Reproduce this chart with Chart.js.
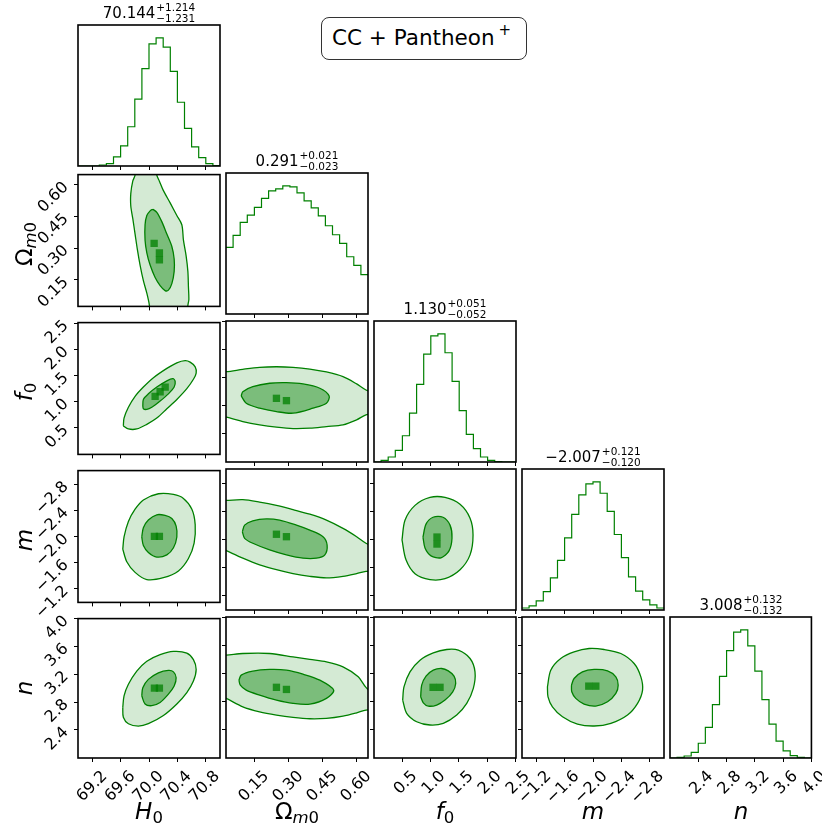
<!DOCTYPE html>
<html>
<head>
<meta charset="utf-8">
<title>CC + Pantheon+ corner plot</title>
<script src="https://cdn.jsdelivr.net/npm/chart.js@4.4.1/dist/chart.umd.min.js"></script>
<style>
  body { margin: 0; background: #fff; }
  #fig { position: relative; width: 822px; height: 828px; overflow: hidden;
         font-family: 'DejaVu Sans', sans-serif; color: #000; }
  #fig canvas { position: absolute; }
  .ttl { position: absolute; height: 24px; display: flex; align-items: center;
         transform: translateX(-50%); font-size: 15px; line-height: 15px; white-space: nowrap; }
  .ttl .sc { display: flex; flex-direction: column; font-size: 10.5px; line-height: 11.5px; margin-left: 1px; }
  .lab { position: absolute; font-size: 23px; line-height: 23px; white-space: nowrap; }
  .lab sub { font-size: 0.72em; vertical-align: -0.3em; line-height: 0; }
  .xl { transform: translate(-50%, -50%); }
  .yl { transform: translate(-50%, -50%) rotate(-90deg); }
  #box { position: absolute; left: 321px; top: 17px; width: 206px; height: 43px; box-sizing: border-box;
         border: 1px solid #333; border-radius: 8px; font-size: 21.5px; line-height: 21.5px;
         padding-left: 10px; padding-bottom: 2px; display: flex; align-items: center; white-space: nowrap; }
  #box .sp { font-size: 15px; position: relative; top: -7px; margin-left: 4px; }
</style>
</head>
<body>
<div id="fig">
  <div id="box">CC + Pantheon<span class="sp">+</span></div>
</div>
<script>
// ---- values ----
var ticksH0 = [69.2, 69.6, 70.0, 70.4, 70.8];
var ticksOm = [0.15, 0.30, 0.45, 0.60];
var ticksF0 = [0.5, 1.0, 1.5, 2.0, 2.5];
var ticksM = [-1.2, -1.6, -2.0, -2.4, -2.8];
var ticksN = [2.4, 2.8, 3.2, 3.6, 4.0];

// 20-bin marginal histograms (arbitrary counts), left to right along each axis
var histH0 = [0, 0, 0, 3, 7, 27, 60, 117, 199, 290, 364, 382, 354, 282, 190, 112, 57, 25, 7, 1];
var histOm = [200, 236, 275, 297, 320, 347, 370, 376, 385, 382, 364, 340, 319, 295, 265, 238, 212, 172, 146, 118];
var histF0 = [0, 5, 15, 35, 79, 147, 234, 325, 380, 386, 329, 243, 155, 83, 40, 15, 5, 1, 0, 0];
var histM = [6, 12, 27, 55, 96, 148, 215, 285, 343, 376, 382, 348, 294, 225, 156, 99, 56, 30, 15, 6];
var histN = [0, 2, 6, 17, 44, 91, 159, 243, 320, 375, 382, 334, 259, 174, 101, 50, 21, 7, 2, 0];

// numbers printed above the diagonal
var medH0 = ['70.144', '+1.214', '\u22121.231'];
var medOm = ['0.291', '+0.021', '\u22120.023'];
var medF0 = ['1.130', '+0.051', '\u22120.052'];
var medM = ['\u22122.007', '+0.121', '\u22120.120'];
var medN = ['3.008', '+0.132', '\u22120.132'];

// 2D panels: outer and inner contour, densest cells  [x, y]
var outerH0Om = [[69.80, 0.70], [69.802, 0.647], [69.769, 0.618], [69.741, 0.559], [69.741, 0.500], [69.769, 0.441], [69.802, 0.367], [69.835, 0.293], [69.873, 0.220], [69.920, 0.146], [69.969, 0.087], [70.006, 0.028], [70.01, -0.02],
                 [70.55, -0.02], [70.553, 0.028], [70.567, 0.057], [70.561, 0.116], [70.553, 0.190], [70.528, 0.264], [70.490, 0.338], [70.467, 0.411], [70.396, 0.455], [70.301, 0.515], [70.205, 0.573], [70.148, 0.618], [70.111, 0.647], [70.10, 0.70]];
var innerH0Om = [[70.054, 0.485], [70.111, 0.470], [70.182, 0.426], [70.254, 0.367], [70.325, 0.308], [70.358, 0.249], [70.358, 0.190], [70.325, 0.132], [70.276, 0.101], [70.229, 0.099], [70.158, 0.123], [70.087, 0.161], [70.016, 0.220], [69.969, 0.278], [69.944, 0.338], [69.944, 0.411], [69.969, 0.455], [70.016, 0.477]];
var peakH0Om = [[70.148, 0.278], [70.073, 0.323], [70.148, 0.245]];

var outerH0F0 = [[69.635, 0.536], [69.645, 0.686], [69.707, 0.893], [69.802, 1.102], [69.920, 1.280], [70.063, 1.459], [70.254, 1.638], [70.396, 1.745], [70.514, 1.786], [70.585, 1.757], [70.657, 1.668], [70.671, 1.548], [70.632, 1.429], [70.538, 1.250], [70.396, 1.043], [70.254, 0.864], [70.111, 0.686], [69.969, 0.566], [69.826, 0.477], [69.707, 0.477]];
var innerH0F0 = [[69.912, 0.923], [69.920, 1.043], [69.991, 1.150], [70.111, 1.280], [70.254, 1.400], [70.339, 1.441], [70.372, 1.388], [70.358, 1.280], [70.276, 1.150], [70.158, 1.013], [70.040, 0.893], [69.969, 0.852], [69.920, 0.864]];
var peakH0F0 = [[70.158, 1.191], [70.087, 1.102], [70.230, 1.280]];

var outerH0M = [[69.627, -1.804], [69.645, -1.993], [69.707, -2.230], [69.802, -2.418], [69.920, -2.560], [70.134, -2.655], [70.348, -2.645], [70.490, -2.584], [70.610, -2.418], [70.657, -2.182], [70.642, -1.898], [70.561, -1.662], [70.419, -1.472], [70.205, -1.369], [69.969, -1.340], [69.802, -1.450], [69.684, -1.614]];
var innerH0M = [[69.897, -1.993], [69.920, -2.135], [69.991, -2.252], [70.111, -2.333], [70.229, -2.323], [70.325, -2.277], [70.386, -2.159], [70.396, -1.993], [70.348, -1.827], [70.254, -1.719], [70.111, -1.685], [69.991, -1.756], [69.920, -1.861]];
var peakH0M = [[70.148, -2.003], [70.077, -2.003]];

var outerH0N = [[69.627, 2.723], [69.645, 2.889], [69.707, 3.055], [69.826, 3.244], [69.969, 3.386], [70.158, 3.481], [70.348, 3.528], [70.538, 3.504], [70.632, 3.410], [70.671, 3.268], [70.632, 3.102], [70.538, 2.936], [70.396, 2.772], [70.205, 2.606], [69.991, 2.488], [69.849, 2.454], [69.707, 2.488], [69.635, 2.582]];
var innerH0N = [[69.897, 2.889], [69.912, 3.007], [69.991, 3.126], [70.134, 3.220], [70.276, 3.254], [70.348, 3.234], [70.386, 3.149], [70.358, 3.031], [70.276, 2.913], [70.158, 2.794], [70.040, 2.748], [69.944, 2.772]];
var peakH0N = [[70.148, 2.999], [70.077, 2.999]];

var outerOmF0 = [[-0.05, 1.60], [0.025, 1.607], [0.098, 1.650], [0.172, 1.686], [0.246, 1.696], [0.319, 1.686], [0.393, 1.655], [0.466, 1.602], [0.539, 1.518], [0.599, 1.388], [0.640, 1.280], [0.72, 1.15],
                 [0.72, 0.90], [0.640, 0.834], [0.599, 0.745], [0.539, 0.655], [0.466, 0.625], [0.393, 0.596], [0.319, 0.589], [0.246, 0.614], [0.172, 0.655], [0.098, 0.714], [0.025, 0.793], [-0.05, 0.85]];
var innerOmF0 = [[0.091, 1.173], [0.098, 1.250], [0.142, 1.339], [0.216, 1.400], [0.290, 1.411], [0.363, 1.388], [0.437, 1.311], [0.478, 1.173], [0.466, 1.043], [0.407, 0.954], [0.319, 0.864], [0.246, 0.893], [0.172, 0.954], [0.113, 1.043]];
var peakOmF0 = [[0.290, 1.089], [0.246, 1.13]];

var outerOmM = [[-0.05, -2.56], [0.025, -2.560], [0.098, -2.570], [0.172, -2.536], [0.246, -2.489], [0.319, -2.428], [0.393, -2.362], [0.466, -2.277], [0.539, -2.159], [0.599, -2.040], [0.640, -1.946], [0.72, -1.80],
                [0.72, -1.56], [0.640, -1.543], [0.599, -1.511], [0.539, -1.472], [0.466, -1.450], [0.393, -1.472], [0.319, -1.511], [0.246, -1.567], [0.172, -1.638], [0.098, -1.733], [0.025, -1.841], [-0.05, -1.95]];
var innerOmM = [[0.096, -2.111], [0.106, -2.206], [0.142, -2.267], [0.202, -2.295], [0.260, -2.277], [0.334, -2.206], [0.393, -2.135], [0.451, -2.040], [0.469, -1.922], [0.459, -1.780], [0.422, -1.733], [0.363, -1.733], [0.290, -1.780], [0.216, -1.851], [0.142, -1.946], [0.106, -2.017]];
var peakOmM = [[0.290, -2.040], [0.246, -2.075]];

var outerOmN = [[-0.05, 3.45], [0.025, 3.457], [0.098, 3.481], [0.216, 3.481], [0.319, 3.433], [0.393, 3.396], [0.466, 3.362], [0.539, 3.291], [0.606, 3.149], [0.640, 2.999], [0.72, 2.75],
                [0.72, 2.70], [0.640, 2.677], [0.599, 2.638], [0.539, 2.591], [0.466, 2.559], [0.393, 2.553], [0.319, 2.573], [0.246, 2.606], [0.172, 2.652], [0.098, 2.723], [0.025, 2.843], [-0.05, 2.95]];
var innerOmN = [[0.081, 3.102], [0.091, 3.173], [0.142, 3.230], [0.216, 3.254], [0.290, 3.244], [0.363, 3.187], [0.437, 3.102], [0.498, 2.960], [0.466, 2.843], [0.393, 2.762], [0.319, 2.772], [0.246, 2.818], [0.172, 2.889], [0.113, 2.960], [0.087, 3.031]];
var peakOmN = [[0.290, 2.970], [0.246, 3.0]];

var outerF0M = [[0.488, -1.993], [0.541, -2.277], [0.719, -2.489], [0.986, -2.603], [1.253, -2.603], [1.520, -2.504], [1.698, -2.305], [1.751, -2.064], [1.698, -1.780], [1.520, -1.567], [1.253, -1.440], [0.986, -1.426], [0.719, -1.511], [0.559, -1.709]];
var innerF0M = [[0.861, -2.035], [0.915, -2.220], [1.039, -2.319], [1.217, -2.319], [1.342, -2.206], [1.377, -2.021], [1.324, -1.837], [1.181, -1.738], [1.004, -1.766], [0.897, -1.879]];
var peakF0M = [[1.110, -2.035], [1.110, -1.935]];

var outerF0N = [[0.500, 2.818], [0.523, 3.007], [0.630, 3.220], [0.808, 3.386], [1.044, 3.489], [1.283, 3.538], [1.489, 3.528], [1.698, 3.410], [1.786, 3.220], [1.756, 2.984], [1.639, 2.772], [1.461, 2.606], [1.222, 2.488], [0.986, 2.464], [0.749, 2.511], [0.571, 2.630]];
var innerF0N = [[0.820, 2.865], [0.838, 3.031], [0.915, 3.159], [1.044, 3.244], [1.194, 3.268], [1.311, 3.234], [1.413, 3.159], [1.443, 3.055], [1.390, 2.936], [1.253, 2.818], [1.105, 2.748], [0.956, 2.733], [0.867, 2.780]];
var peakF0N = [[1.164, 3.0], [1.04, 3.0]];

var outerMN = [[-1.352, 3.007], [-1.399, 3.244], [-1.541, 3.410], [-1.731, 3.504], [-1.944, 3.552], [-2.158, 3.538], [-2.396, 3.481], [-2.585, 3.339], [-2.681, 3.149], [-2.705, 2.960], [-2.634, 2.772], [-2.491, 2.606], [-2.254, 2.488], [-2.016, 2.450], [-1.779, 2.478], [-1.566, 2.582], [-1.423, 2.723], [-1.360, 2.865]];
var innerMN = [[-1.694, 3.031], [-1.731, 3.126], [-1.850, 3.220], [-2.016, 3.254], [-2.207, 3.234], [-2.325, 3.149], [-2.358, 3.031], [-2.325, 2.913], [-2.207, 2.794], [-2.040, 2.733], [-1.873, 2.762], [-1.755, 2.843], [-1.698, 2.936]];
var peakMN = [[-2.040, 3.017], [-1.940, 3.017]];

// ---- axes ----
var axisMin = [68.99, 0.024, -0.01, -3.01, 1.995];
var axisMax = [71.01, 0.649, 2.515, -0.99, 4.0];
var axisRev = [false, false, false, true, false];
var axisDec = [1, 2, 1, 1, 1];
var tickSets = [ticksH0, ticksOm, ticksF0, ticksM, ticksN];
var histSets = [histH0, histOm, histF0, histM, histN];
var titleSets = [medH0, medOm, medF0, medM, medN];
var labelHtml = ['<i>H</i><sub>0</sub>', '\u03a9<sub><i>m</i>0</sub>', '<i>f</i><sub>0</sub>', '<i>m</i>', '<i>n</i>'];
var pairSets = {
  '0,1': [outerH0Om, innerH0Om, peakH0Om],
  '0,2': [outerH0F0, innerH0F0, peakH0F0],
  '0,3': [outerH0M, innerH0M, peakH0M],
  '0,4': [outerH0N, innerH0N, peakH0N],
  '1,2': [outerOmF0, innerOmF0, peakOmF0],
  '1,3': [outerOmM, innerOmM, peakOmM],
  '1,4': [outerOmN, innerOmN, peakOmN],
  '2,3': [outerF0M, innerF0M, peakF0M],
  '2,4': [outerF0N, innerF0N, peakF0N],
  '3,4': [outerMN, innerMN, peakMN]
};

// ---- layout ----
var panelLeft = [78, 226, 374, 522, 670];
var panelTop = [25, 173, 321, 469, 617];
var PW = 142, PH = 141;
var GREEN = '#008000';
var fig = document.getElementById('fig');

var framePlugin = {
  id: 'frame',
  afterDraw: function(chart) {
    var a = chart.chartArea, c = chart.ctx;
    c.save();
    c.strokeStyle = '#000';
    c.lineWidth = 1.6;
    c.strokeRect(a.left, a.top, a.right - a.left, a.bottom - a.top);
    c.restore();
  }
};

function fmt(v, p) {
  return v.toFixed(axisDec[p]).replace('-', '\u2212');
}

function axisOpts(p, axis, showLabels, size) {
  return {
    type: 'linear',
    min: axisMin[p],
    max: axisMax[p],
    reverse: axisRev[p],
    grid: { drawOnChartArea: false, drawTicks: true, tickLength: 4, tickColor: '#000', tickWidth: 1 },
    border: { display: false },
    ticks: {
      display: showLabels,
      color: '#000',
      font: { family: 'DejaVu Sans', size: 16 },
      minRotation: 45,
      maxRotation: 45,
      autoSkip: false,
      padding: axis === 'x' ? 5 : 8,
      labelOffset: axis === 'x' ? 12 : 0,
      callback: function(v) { return fmt(v, p); }
    },
    afterBuildTicks: function(s) {
      s.ticks = tickSets[p].map(function(v) { return { value: v }; });
    },
    afterFit: function(s) {
      if (axis === 'x') s.height = size; else s.width = size;
    }
  };
}

function pts(arr, close) {
  var out = arr.map(function(a) { return { x: a[0], y: a[1] }; });
  if (close) out.push({ x: arr[0][0], y: arr[0][1] });
  return out;
}

function histPoints(p) {
  var h = histSets[p];
  var lo = axisRev[p] ? axisMax[p] : axisMin[p];
  var hi = axisRev[p] ? axisMin[p] : axisMax[p];
  var w = (hi - lo) / h.length, out = [];
  for (var i = 0; i < h.length; i++) out.push({ x: lo + i * w, y: h[i] });
  out.push({ x: hi, y: h[h.length - 1] });
  return out;
}

function makePanel(row, col) {
  var diag = row === col;
  var L = col === 0 ? 72 : 40, R = 18, T = 16, B = row === 4 ? 64 : 10;
  var cv = document.createElement('canvas');
  cv.width = PW + L + R;
  cv.height = PH + T + B;
  cv.style.left = (panelLeft[col] - L) + 'px';
  cv.style.top = (panelTop[row] - T) + 'px';
  fig.appendChild(cv);

  var datasets, yScale;
  if (diag) {
    datasets = [{
      data: histPoints(col), showLine: true, stepped: true, fill: false,
      borderColor: GREEN, borderWidth: 1.2, pointRadius: 0, clip: 0
    }];
    yScale = { display: false, min: 0, max: Math.max.apply(null, histSets[col]) * 1.1 };
  } else {
    var set = pairSets[col + ',' + row];
    datasets = [
      { data: pts(set[2], false), showLine: false, pointStyle: 'rect', pointRadius: 5.2,
        backgroundColor: 'rgba(0,128,0,0.75)', borderWidth: 0, order: 0, clip: 0 },
      { data: pts(set[1], true), showLine: true, fill: 'shape', tension: 0.3,
        backgroundColor: 'rgba(0,128,0,0.42)', borderColor: GREEN, borderWidth: 1.3,
        pointRadius: 0, order: 1, clip: 0 },
      { data: pts(set[0], true), showLine: true, fill: 'shape', tension: 0.3,
        backgroundColor: 'rgba(0,128,0,0.17)', borderColor: GREEN, borderWidth: 1.3,
        pointRadius: 0, order: 2, clip: 0 }
    ];
    yScale = axisOpts(row, 'y', col === 0, L);
  }

  new Chart(cv, {
    type: 'scatter',
    data: { datasets: datasets },
    options: {
      responsive: false,
      animation: false,
      devicePixelRatio: 1,
      events: [],
      layout: { padding: { left: diag ? L : 0, right: R, top: T, bottom: 0 } },
      plugins: { legend: { display: false }, tooltip: { enabled: false } },
      scales: {
        x: axisOpts(col, 'x', row === 4, B),
        y: yScale
      }
    },
    plugins: [framePlugin]
  });
}

for (var r = 0; r < 5; r++) {
  for (var c = 0; c <= r; c++) makePanel(r, c);
}

// titles above the diagonal
for (var i = 0; i < 5; i++) {
  var t = document.createElement('div');
  t.className = 'ttl';
  t.style.left = (panelLeft[i] + PW / 2) + 'px';
  t.style.top = (panelTop[i] - 24) + 'px';
  t.innerHTML = '<span>' + titleSets[i][0] + '</span><span class="sc"><span>' +
    titleSets[i][1] + '</span><span>' + titleSets[i][2] + '</span></span>';
  fig.appendChild(t);
}

// axis labels
for (var j = 0; j < 5; j++) {
  var xl = document.createElement('div');
  xl.className = 'lab xl';
  xl.style.left = (panelLeft[j] + PW / 2) + 'px';
  xl.style.top = '811px';
  xl.innerHTML = labelHtml[j];
  fig.appendChild(xl);
  if (j > 0) {
    var yl = document.createElement('div');
    yl.className = 'lab yl';
    yl.style.left = '24px';
    yl.style.top = (panelTop[j] + PH / 2) + 'px';
    yl.innerHTML = labelHtml[j];
    fig.appendChild(yl);
  }
}
</script>
</body>
</html>
